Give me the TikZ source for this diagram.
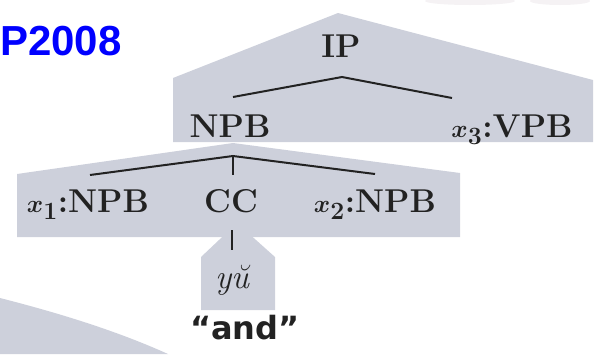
\documentclass[tikz,border=0pt]{standalone}
\usepackage{fontspec}
\newfontfamily\titlefont{Liberation Sans}
\newfontfamily\glossfont{DejaVu Sans}
\definecolor{panelgray}{HTML}{CDD0DB}
\definecolor{inkgray}{HTML}{222222}
\definecolor{titleblue}{HTML}{0000FF}
\definecolor{smudge}{HTML}{F5F2F4}
\begin{document}
\begin{tikzpicture}[x=1pt,y=-1pt,
  panel/.style={fill=panelgray, draw=none},
  branch/.style={line width=2pt, draw=inkgray},
  cat/.style={anchor=base, inner sep=0pt, text=inkgray,
              font=\bfseries\boldmath\fontsize{33}{38}\selectfont},
]
\useasboundingbox (0,0) rectangle (594,354);

% faint marks along the top edge
\fill[smudge] (470,1) ellipse [x radius=45, y radius=4];
\fill[smudge] (560,1) ellipse [x radius=30, y radius=4];

% rule panels
\fill[panel] (173,78) -- (338,13) -- (593,80) -- (593,142) -- (173,142) -- cycle;
\fill[panel] (17,174) -- (233,143) -- (460,173) -- (460,237) -- (17,237) -- cycle;
\fill[panel] (201,257) -- (237,223) -- (275,257) -- (275,310) -- (201,310) -- cycle;
\fill[panel] (0,298) .. controls (55,312) and (115,330) .. (168,354) -- (0,354) -- cycle;

% title
\node[anchor=base west, inner sep=0pt, text=titleblue,
      font=\titlefont\bfseries\fontsize{42}{48}\selectfont] (title) at (0,55) {P2008};

% category labels
\node[cat] (ip)   at (341,57)  {IP};
\node[cat] (npb)  at (230,137) {NPB};
\node[cat] (vpb)  at (512,137) {$x_3$:VPB};
\node[cat] (np1)  at (88,212)  {$x_1$:NPB};
\node[cat] (cc)   at (231,212) {CC};
\node[cat] (np2)  at (375,212) {$x_2$:NPB};
\node[cat, font=\itshape\fontsize{34}{40}\selectfont] (yu) at (232,288) {y\u{u}};
\node[anchor=base, inner sep=0pt, text=inkgray,
      font=\glossfont\bfseries\fontsize{32}{36}\selectfont] (gloss) at (245,339) {“and”};

% branch points
\coordinate (ipJ)  at (342,77);
\coordinate (ipL)  at (233,97);
\coordinate (ipR)  at (452,98);
\coordinate (npJ)  at (233,156);
\coordinate (npL)  at (90,175);
\coordinate (npM)  at (233,175);
\coordinate (npR)  at (375,174);
\coordinate (ccT)  at (232,230);
\coordinate (ccB)  at (232,250);

\draw[branch] (ipL) -- (ipJ) -- (ipR);
\draw[branch] (npL) -- (npJ) -- (npR);
\draw[branch] (npJ) -- (npM);
\draw[branch] (ccT) -- (ccB);
\end{tikzpicture}
\end{document}
